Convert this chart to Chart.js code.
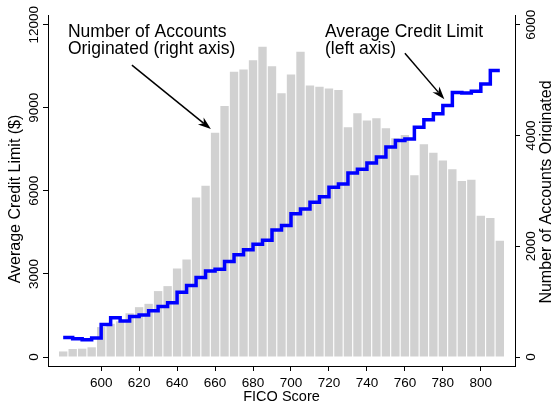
<!DOCTYPE html>
<html>
<head>
<meta charset="utf-8">
<script src="https://cdn.jsdelivr.net/npm/chart.js@4.4.0/dist/chart.umd.min.js"></script>
<style>
  html, body { margin: 0; padding: 0; background: #fff; }
  #wrap { width: 552px; height: 403px; }
</style>
</head>
<body>
<div id="wrap"><canvas id="chart" width="552" height="403"></canvas></div>
<script>
const ficoScores = [580, 585, 590, 595, 600, 605, 610, 615, 620, 625, 630, 635, 640, 645, 650, 655,
    660, 665, 670, 675, 680, 685, 690, 695, 700, 705, 710, 715, 720, 725, 730, 735,
    740, 745, 750, 755, 760, 765, 770, 775, 780, 785, 790, 795, 800, 805, 810];

const accountsOriginated = [100, 145, 150, 175, 540, 600, 645, 790, 900, 960, 1190, 1280, 1600, 1760, 2880, 3090,
    4050, 4530, 5150, 5190, 5360, 5600, 5250, 4760, 5100, 5510, 4900, 4880, 4850, 4820, 4150, 4400,
    4270, 4310, 4130, 3950, 4010, 3280, 3840, 3690, 3550, 3390, 3180, 3200, 2550, 2510, 2100];

const avgCreditLimit = [700, 700, 660, 625, 690, 1170, 1420, 1300, 1460, 1520, 1670, 1820, 1960, 2340, 2580, 2870,
    3110, 3170, 3450, 3690, 3870, 4070, 4220, 4590, 4750, 5170, 5340, 5590, 5790, 6130, 6250, 6640,
    6780, 7010, 7220, 7580, 7820, 7870, 8300, 8570, 8780, 9080, 9550, 9530, 9600, 9860, 10350];

const xTicks = [600, 620, 640, 660, 680, 700, 720, 740, 760, 780, 800];
const leftTicks = [0, 3000, 6000, 9000, 12000];
const rightTicks = [0, 2000, 4000, 6000];

const xTitle = "FICO Score";
const leftTitle = "Average Credit Limit ($)";
const rightTitle = "Number of Accounts Originated";

// annotation anchors in data units (x = FICO, y = left axis)
const notes = [
    { lines: ["Number of Accounts", "Originated (right axis)"], x: 582.5, y: 11540, from: [616.2, 10540], to: [657.8, 8230] },
    { lines: ["Average Credit Limit", "(left axis)"], x: 717.9, y: 11555, from: [760.0, 10970], to: [780.8, 9306] },
];

const FONT = '"Liberation Sans", Arial, Helvetica, sans-serif';

function drawUp(ctx, text, x, y) {
    ctx.save();
    ctx.translate(x, y);
    ctx.rotate(-Math.PI / 2);
    ctx.fillText(text, 0, 0);
    ctx.restore();
}

function drawArrow(ctx, x0, y0, x1, y1) {
    const a = Math.atan2(y1 - y0, x1 - x0);
    const c = Math.cos(a), s = Math.sin(a);
    const len = 13, half = 4.5;
    ctx.beginPath();
    ctx.moveTo(x0, y0);
    ctx.lineTo(x1 - len * 0.7 * c, y1 - len * 0.7 * s);
    ctx.stroke();
    ctx.beginPath();
    ctx.moveTo(x1, y1);
    ctx.lineTo(x1 - len * c + half * s, y1 - len * s - half * c);
    ctx.lineTo(x1 - len * 0.7 * c, y1 - len * 0.7 * s);
    ctx.lineTo(x1 - len * c - half * s, y1 - len * s + half * c);
    ctx.closePath();
    ctx.fill();
}

const textPlugin = {
    id: "textPlugin",
    afterDraw(chart) {
        const { ctx, chartArea } = chart;
        const { x, y, y1 } = chart.scales;
        ctx.save();
        ctx.fillStyle = "#000";
        ctx.strokeStyle = "#000";
        ctx.textBaseline = "alphabetic";
        ctx.textAlign = "center";

        ctx.font = `13.5px ${FONT}`;
        xTicks.forEach(v => ctx.fillText(String(v), x.getPixelForValue(v), chartArea.bottom + 20.5));
        leftTicks.forEach(v => drawUp(ctx, String(v), chartArea.left - 10, y.getPixelForValue(v)));
        rightTicks.forEach(v => drawUp(ctx, String(v), chartArea.right + 20, y1.getPixelForValue(v)));

        ctx.font = `14.5px ${FONT}`;
        ctx.fillText(xTitle, (chartArea.left + chartArea.right) / 2, chartArea.bottom + 34.5);

        ctx.font = `16px ${FONT}`;
        drawUp(ctx, leftTitle, chartArea.left - 28, 199);
        drawUp(ctx, rightTitle, chartArea.right + 36, 192);

        ctx.font = `17.5px ${FONT}`;
        ctx.textAlign = "left";
        ctx.lineWidth = 1.5;
        notes.forEach(n => {
            const tx = x.getPixelForValue(n.x);
            const ty = y.getPixelForValue(n.y);
            n.lines.forEach((line, i) => ctx.fillText(line, tx, ty + i * 17));
            drawArrow(ctx,
                x.getPixelForValue(n.from[0]), y.getPixelForValue(n.from[1]),
                x.getPixelForValue(n.to[0]), y.getPixelForValue(n.to[1]));
        });
        ctx.restore();
    },
};

const axisLine = { display: true, color: "#000", width: 1 };
const tickMarks = { offset: false, drawOnChartArea: false, drawTicks: true, tickLength: 5, color: "#000", lineWidth: 1 };

new Chart(document.getElementById("chart"), {
    type: "bar",
    data: {
        datasets: [
            {
                type: "line",
                label: "Average Credit Limit",
                data: ficoScores.map((f, i) => ({ x: f, y: avgCreditLimit[i] })),
                yAxisID: "y",
                borderColor: "#0000ff",
                borderWidth: 3.5,
                pointRadius: 0,
                stepped: "after",
                borderJoinStyle: "miter",
                borderCapStyle: "butt",
                order: 1,
            },
            {
                label: "Number of Accounts Originated",
                data: ficoScores.map((f, i) => ({ x: f, y: accountsOriginated[i] })),
                yAxisID: "y1",
                backgroundColor: "#d1d1d1",
                barPercentage: 1,
                categoryPercentage: 0.88,
                order: 2,
            },
        ],
    },
    options: {
        responsive: false,
        animation: false,
        devicePixelRatio: 1,
        layout: { padding: { top: 15, left: 0, right: 0, bottom: 0 } },
        plugins: { legend: { display: false }, tooltip: { enabled: false } },
        scales: {
            x: {
                type: "linear",
                min: 572,
                max: 818,
                offset: false,
                afterBuildTicks: s => { s.ticks = xTicks.map(v => ({ value: v })); },
                afterFit: s => { s.height = 37; },
                ticks: { display: false },
                grid: tickMarks,
                border: axisLine,
            },
            y: {
                position: "left",
                min: -325,
                max: 12350,
                afterBuildTicks: s => { s.ticks = leftTicks.map(v => ({ value: v })); },
                afterFit: s => { s.width = 48; },
                ticks: { display: false },
                grid: tickMarks,
                border: axisLine,
            },
            y1: {
                position: "right",
                min: -162.5,
                max: 6175,
                afterBuildTicks: s => { s.ticks = rightTicks.map(v => ({ value: v })); },
                afterFit: s => { s.width = 37; },
                ticks: { display: false },
                grid: tickMarks,
                border: axisLine,
            },
        },
    },
    plugins: [textPlugin],
});
</script>
</body>
</html>
